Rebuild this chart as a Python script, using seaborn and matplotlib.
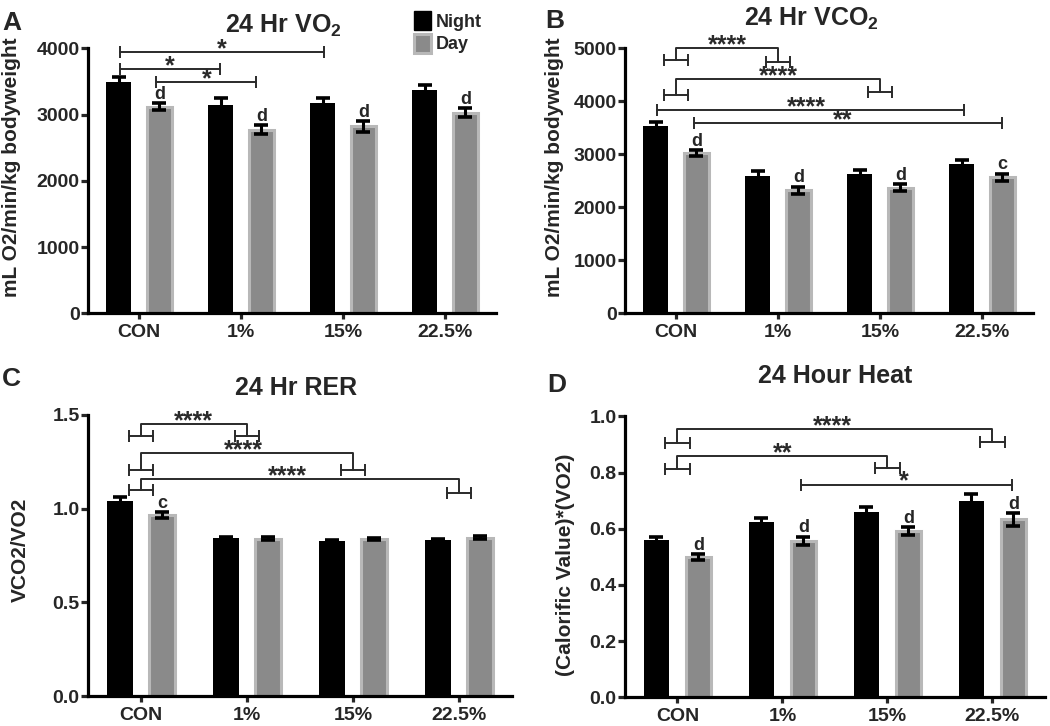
import numpy as np
import pandas as pd
import matplotlib
matplotlib.use("Agg")
import matplotlib.pyplot as plt
from matplotlib.patches import Patch
import seaborn as sns

# groups / periods
groups = ['CON', '1%', '15%', '22.5%']
periods = ['Night', 'Day']

# 24 Hr VO2 (mean, SEM)
vo2_night = [3490, 3140, 3170, 3370]
vo2_night_sem = [70, 110, 80, 70]
vo2_day = [3120, 2770, 2820, 3030]
vo2_day_sem = [50, 70, 80, 70]

# 24 Hr VCO2
vco2_night = [3540, 2590, 2620, 2810]
vco2_night_sem = [60, 100, 75, 75]
vco2_day = [3020, 2320, 2370, 2570]
vco2_day_sem = [60, 70, 65, 65]

# 24 Hr RER
rer_night = [1.04, 0.843, 0.828, 0.835]
rer_night_sem = [0.022, 0.007, 0.004, 0.005]
rer_day = [0.965, 0.840, 0.838, 0.845]
rer_day_sem = [0.015, 0.007, 0.007, 0.009]

# 24 Hour Heat
heat_night = [0.559, 0.624, 0.660, 0.698]
heat_night_sem = [0.013, 0.016, 0.019, 0.025]
heat_day = [0.499, 0.557, 0.591, 0.634]
heat_day_sem = [0.012, 0.015, 0.014, 0.023]

# letters above day bars
vo2_letters = ['d', 'd', 'd', 'd']
vco2_letters = ['d', 'd', 'd', 'c']
rer_letters = ['c', '', '', '']
heat_letters = ['d', 'd', 'd', 'd']

NIGHT_C = 'black'
DAY_C = '#8a8a8a'
DAY_EDGE = '#b8b8b8'
LINE_C = '#2a2a2a'

sns.set_style("ticks")
plt.rcParams['font.family'] = ['Liberation Sans', 'DejaVu Sans']
plt.rcParams['font.weight'] = 'bold'
plt.rcParams['axes.labelweight'] = 'bold'
plt.rcParams['axes.titleweight'] = 'bold'
plt.rcParams['mathtext.fontset'] = 'custom'
plt.rcParams['mathtext.rm'] = 'Liberation Sans:bold'
plt.rcParams['mathtext.bf'] = 'Liberation Sans:bold'
plt.rcParams['mathtext.default'] = 'bf'


def draw_bars(ax, night, night_sem, day, day_sem, letters):
    df = pd.DataFrame({
        'group': groups * 2,
        'period': ['Night'] * 4 + ['Day'] * 4,
        'value': night + day,
    })
    sns.barplot(data=df, x='group', y='value', hue='period', order=groups,
                hue_order=periods, palette={'Night': NIGHT_C, 'Day': DAY_C},
                width=0.8, gap=0.4, errorbar=None, saturation=1,
                legend=False, ax=ax, zorder=2)
    for cont, sems, ec, lw in zip(ax.containers, [night_sem, day_sem],
                                  [NIGHT_C, DAY_EDGE], [0, 2.2]):
        xs = [p.get_x() + p.get_width() / 2 for p in cont]
        ys = [p.get_height() for p in cont]
        for p in cont:
            p.set_edgecolor(ec)
            p.set_linewidth(lw)
        ax.errorbar(xs, ys, yerr=sems, fmt='none', ecolor='black',
                    elinewidth=2.2, capsize=5, capthick=2.6, zorder=3)
    # significance letters on day bars
    day_bars = list(ax.containers[1])
    for p, s, lab in zip(day_bars, day_sem, letters):
        if lab:
            ax.annotate(lab, (p.get_x() + p.get_width() / 2, p.get_height() + s),
                        xytext=(0, 3), textcoords='offset points',
                        ha='center', va='baseline', fontsize=13,
                        fontweight='bold')


def stars(ax, x, y, label):
    ax.annotate(label, (x, y), xytext=(0, -3), textcoords='offset points',
                ha='center', va='baseline', fontsize=18, fontweight='bold',
                color=LINE_C, annotation_clip=False)


def line_bracket(ax, x1, x2, y, label, sx):
    ax.plot([x1, x2], [y, y], color=LINE_C, lw=1.4, clip_on=False, zorder=4)
    ax.plot([x1, x2], [y, y], ls='none', marker='|', ms=8, mew=1.4,
            color=LINE_C, clip_on=False, zorder=4)
    stars(ax, sx, y, label)


def group_bracket(ax, g1, y1, g2, y2, top, label, sx, hw=0.115):
    for g, y in [(g1, y1), (g2, y2)]:
        ax.plot([g - hw, g + hw], [y, y], color=LINE_C, lw=1.4,
                clip_on=False, zorder=4)
        ax.plot([g - hw, g + hw], [y, y], ls='none', marker='|', ms=8,
                mew=1.4, color=LINE_C, clip_on=False, zorder=4)
    ax.plot([g1, g1, g2, g2], [y1, top, top, y2], color=LINE_C, lw=1.4,
            clip_on=False, zorder=4)
    stars(ax, sx, top, label)


def style_axis(ax, ylim, yticks, ylabel, label_x, label_y):
    ax.set_xlim(-0.5, 3.5)
    ax.set_ylim(*ylim)
    ax.set_yticks(yticks)
    ax.set_xlabel('')
    ax.set_ylabel(ylabel, fontsize=15, fontweight='bold')
    ax.yaxis.set_label_coords(label_x, label_y)
    sns.despine(ax=ax)
    for s in ['left', 'bottom']:
        ax.spines[s].set_linewidth(2.3)
        ax.spines[s].set_color('black')
    ax.tick_params(axis='y', length=5, width=2.3, pad=1, labelsize=14)
    ax.tick_params(axis='x', length=4, width=2.3, pad=4, labelsize=14)


fig = plt.figure(figsize=(10.5, 7.26), dpi=100)
axA = fig.add_axes([0.0838, 0.5685, 0.3886, 0.365])
axB = fig.add_axes([0.5952, 0.5685, 0.3886, 0.365])
axC = fig.add_axes([0.0838, 0.0409, 0.4038, 0.3879])
axD = fig.add_axes([0.5952, 0.0395, 0.4000, 0.3870])

# Panel A
draw_bars(axA, vo2_night, vo2_night_sem, vo2_day, vo2_day_sem, vo2_letters)
style_axis(axA, (0, 4000), [0, 1000, 2000, 3000, 4000],
           'mL O2/min/kg bodyweight', -0.165, 0.55)
axA.set_title('24 Hr VO$_2$', x=0.48, y=1.058, pad=0, fontsize=18)
line_bracket(axA, -0.19, 1.81, 3940, '*', 0.81)
line_bracket(axA, -0.19, 0.79, 3690, '*', 0.30)
line_bracket(axA, 0.17, 1.15, 3490, '*', 0.66)
leg_handles = [Patch(facecolor=NIGHT_C, edgecolor=NIGHT_C),
               Patch(facecolor=DAY_C, edgecolor=DAY_EDGE, linewidth=2.2)]
axA.legend(leg_handles, periods, loc='upper left', bbox_to_anchor=(0.80, 1.14),
           frameon=False, handlelength=0.9, handleheight=1.2,
           handletextpad=0.3, labelspacing=0.2, borderpad=0, borderaxespad=0,
           prop={'weight': 'bold', 'size': 13})

# Panel B
draw_bars(axB, vco2_night, vco2_night_sem, vco2_day, vco2_day_sem, vco2_letters)
style_axis(axB, (0, 5000), [0, 1000, 2000, 3000, 4000, 5000],
           'mL O2/min/kg bodyweight', -0.150, 0.55)
axB.set_title('24 Hr VCO$_2$', x=0.458, y=1.084, pad=0, fontsize=18)
group_bracket(axB, 0, 4780, 1, 4750, 5000, '****', 0.5)
group_bracket(axB, 0, 4120, 2, 4180, 4415, '****', 1.0)
line_bracket(axB, -0.19, 2.82, 3835, '****', 1.28)
line_bracket(axB, 0.18, 3.20, 3585, '**', 1.63)

# Panel C
draw_bars(axC, rer_night, rer_night_sem, rer_day, rer_day_sem, rer_letters)
style_axis(axC, (0, 1.5), [0.0, 0.5, 1.0, 1.5], 'VCO2/VO2', -0.137, 0.52)
axC.set_yticklabels(['0.0', '0.5', '1.0', '1.5'])
axC.set_title('24 Hr RER', x=0.49, y=1.07, pad=0, fontsize=18)
group_bracket(axC, 0, 1.388, 1, 1.385, 1.45, '****', 0.49)
group_bracket(axC, 0, 1.207, 2, 1.203, 1.296, '****', 0.97)
group_bracket(axC, 0, 1.097, 3, 1.083, 1.159, '****', 1.38)

# Panel D
draw_bars(axD, heat_night, heat_night_sem, heat_day, heat_day_sem, heat_letters)
style_axis(axD, (0, 1.0), [0.0, 0.2, 0.4, 0.6, 0.8, 1.0],
           '(Calorific Value)*(VO2)', -0.119, 0.47)
axD.set_yticklabels(['0.0', '0.2', '0.4', '0.6', '0.8', '1.0'])
axD.set_title('24 Hour Heat', x=0.5, y=1.118, pad=0, fontsize=18)
group_bracket(axD, 0, 0.905, 3, 0.907, 0.955, '****', 1.48)
group_bracket(axD, 0, 0.812, 2, 0.816, 0.860, '**', 1.0)
line_bracket(axD, 1.18, 3.19, 0.757, '*', 2.16)

for axis in [axA, axB, axC, axD]:
    for t in axis.get_xticklabels() + axis.get_yticklabels():
        t.set_fontweight('bold')
        t.set_fontsize(14)

# panel letters
fig.text(2 / 1050, 1 - 30 / 726, 'A', fontsize=19, fontweight='bold', va='baseline')
fig.text(545 / 1050, 1 - 28 / 726, 'B', fontsize=19, fontweight='bold', va='baseline')
fig.text(2 / 1050, 1 - 386 / 726, 'C', fontsize=19, fontweight='bold', va='baseline')
fig.text(547 / 1050, 1 - 392 / 726, 'D', fontsize=19, fontweight='bold', va='baseline')

fig.savefig('out.png', dpi=100)
